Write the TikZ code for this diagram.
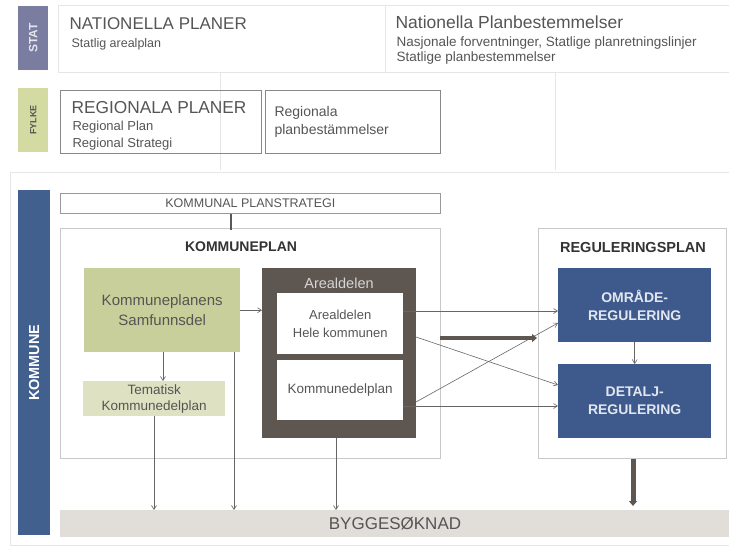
\documentclass[tikz,border=0pt]{standalone}
\usepackage{fontspec}
\setmainfont{Liberation Sans}
\usetikzlibrary{arrows.meta}
\definecolor{statc}{HTML}{7A7DA0}
\definecolor{fylkec}{HTML}{D3DAA2}
\definecolor{kommc}{HTML}{41608E}
\definecolor{samf}{HTML}{C8CF9A}
\definecolor{tema}{HTML}{DEE2C2}
\definecolor{areal}{HTML}{5E5651}
\definecolor{regc}{HTML}{3E5A8C}
\definecolor{bygg}{HTML}{E1DDD9}
\definecolor{txt}{HTML}{555555}
\definecolor{faint}{HTML}{E6E6E6}
\definecolor{lbox}{HTML}{C8C8C8}
\begin{document}
\begin{tikzpicture}[x=1pt,y=-1pt,
  every node/.style={text=txt,font=\fontsize{10}{12}\selectfont},
  sidebar/.style={anchor=north west,inner sep=0pt},
  framebox/.style={draw=txt!70,line width=0.7pt,anchor=north west,inner sep=0pt},
  lightbox/.style={draw=lbox,line width=0.6pt,anchor=north west,inner sep=0pt},
  fillbox/.style={anchor=north west,inner sep=0pt,align=center},
  thinarrow/.style={draw=txt!90,line width=0.6pt,-{Straight Barb[length=4pt,width=5pt]}},
  thickarrow/.style={draw=areal,line width=4pt,-{Triangle[length=5pt,width=8pt]}}
]
\useasboundingbox (0,0) rectangle (729,547);
% faint background grid
\draw[faint,line width=0.8pt] (58,5) rectangle (385,72);
\draw[faint,line width=0.8pt] (385,5) rectangle (729,72);
\draw[faint,line width=0.8pt] (220,72) -- (220,170);
\draw[faint,line width=0.8pt] (555,72) -- (555,170);
\draw[faint,line width=0.8pt] (10,172) -- (729,172);
\draw[faint,line width=0.8pt] (10,172) -- (10,545) -- (729,545);
% side bars
\node[sidebar,fill=statc,minimum width=30pt,minimum height=64pt] (stat) at (18,6) {};
\node[rotate=90,text=white!80!statc,font=\fontsize{12}{13}\selectfont\bfseries] at (stat.center) {STAT};
\node[sidebar,fill=fylkec,minimum width=30pt,minimum height=64pt] (fylke) at (18,88) {};
\node[rotate=90,text=txt,font=\fontsize{9}{10}\selectfont\bfseries] at (fylke.center) {FYLKE};
\node[sidebar,fill=kommc,minimum width=32pt,minimum height=345pt] (komm) at (18,190) {};
\node[rotate=90,text=white,font=\fontsize{14.5}{16}\selectfont\bfseries] at (komm.center) {KOMMUNE};
% national
\node[anchor=base west,font=\fontsize{17}{20}\selectfont] (natp) at (66,29) {NATIONELLA PLANER};
\node[anchor=base west,font=\fontsize{12.5}{14}\selectfont] (natsub) at (68,47) {Statlig arealplan};
\node[anchor=base west,font=\fontsize{17.5}{20}\selectfont] (natb) at (392,28) {Nationella Planbestemmelser};
\node[anchor=base west,font=\fontsize{13.5}{15}\selectfont] (natbsub) at (393,46) {Nasjonale forventninger, Statlige planretningslinjer};
\node[anchor=base west,font=\fontsize{13.5}{15}\selectfont] (natbsub2) at (393,61) {Statlige planbestemmelser};
% regional
\node[framebox,minimum width=201pt,minimum height=63pt] (regp) at (60,90) {};
\node[anchor=base west,font=\fontsize{17.3}{20}\selectfont] (regt) at (68,113) {REGIONALA PLANER};
\node[anchor=base west,font=\fontsize{13}{15}\selectfont] at (69,130) {Regional Plan};
\node[anchor=base west,font=\fontsize{13}{15}\selectfont] at (69,147) {Regional Strategi};
\node[framebox,minimum width=175pt,minimum height=63pt] (regb) at (265,90) {};
\node[anchor=west,align=left,font=\fontsize{14}{18}\selectfont] at (271,122) {Regionala\\planbestämmelser};
% kommunal planstrategi
\node[framebox,minimum width=380pt,minimum height=20pt,draw=txt!60] (kps) at (60,193) {};
\node[font=\fontsize{12.5}{14}\selectfont] at (kps.center) {KOMMUNAL PLANSTRATEGI};
% kommuneplan
\node[lightbox,minimum width=380pt,minimum height=230pt] (kp) at (60,228) {};
\node[font=\fontsize{14}{16}\selectfont\bfseries,text=black!80] at (241,247) {KOMMUNEPLAN};
\draw[areal,line width=2.5pt] (kps.south -| 231,0) -- (231,230);
\node[fillbox,fill=samf,minimum width=156pt,minimum height=84pt] (samf) at (84,268) {};
\node[align=center,font=\fontsize{15}{20}\selectfont] at (samf.center) {Kommuneplanens\\Samfunnsdel};
\node[fillbox,fill=tema,minimum width=142pt,minimum height=35pt] (tema) at (83,381) {};
\node[align=center,font=\fontsize{13.5}{16}\selectfont] at (tema.center) {Tematisk\\Kommunedelplan};
\node[fillbox,fill=areal,minimum width=154pt,minimum height=170pt] (areal) at (262,268) {};
\node[text=white!75!areal,font=\fontsize{14.5}{16}\selectfont] at (339,283) {Arealdelen};
\node[fillbox,fill=white,minimum width=126pt,minimum height=61pt] (hele) at (277,293) {};
\node[align=center,font=\fontsize{13}{18}\selectfont] at (hele.center) {Arealdelen\\Hele kommunen};
\node[fillbox,fill=white,minimum width=126pt,minimum height=60pt] (kdp) at (277,360) {};
\node[font=\fontsize{13.5}{15}\selectfont] at (kdp.center) {Kommunedelplan};
% reguleringsplan
\node[lightbox,minimum width=188pt,minimum height=230pt] (rp) at (538,228) {};
\node[font=\fontsize{14.5}{16}\selectfont\bfseries,text=black!80] at (633,248) {REGULERINGSPLAN};
\node[fillbox,fill=regc,minimum width=153pt,minimum height=74pt] (omr) at (558,268) {};
\node[align=center,text=white!85!regc,font=\fontsize{14}{18}\selectfont\bfseries] at (omr.center) {OMRÅDE-\\REGULERING};
\node[fillbox,fill=regc,minimum width=153pt,minimum height=74pt] (det) at (558,364) {};
\node[align=center,text=white!85!regc,font=\fontsize{14}{18}\selectfont\bfseries] at (det.center) {DETALJ-\\REGULERING};
% byggesøknad
\node[fillbox,fill=bygg,minimum width=669pt,minimum height=27pt] (byg) at (60,510) {};
\node[font=\fontsize{17}{19}\selectfont] at (395,524) {BYGGESØKNAD};
% connectors
\draw[thinarrow] (samf.east) -- (areal.west |- samf.east);
\draw[thinarrow] (samf.south -| 163,0) -- (tema.north -| 163,0);
\draw[thinarrow] (tema.south -| 154,0) -- (byg.north -| 154,0);
\draw[thinarrow] (samf.south -| 234,0) -- (byg.north -| 234,0);
\draw[thinarrow] (areal.south -| 336,0) -- (byg.north -| 336,0);
\draw[thinarrow] (hele.east |- 0,311) -- (omr.west |- 0,311);
\draw[thinarrow] (416,337) -- (det.west |- 0,385);
\draw[thinarrow] (416,402) -- (omr.west |- 0,323);
\draw[thinarrow] (kdp.east |- 0,406) -- (det.west |- 0,406);
\draw[thickarrow] (440,338) -- (537,338);
\draw[thinarrow] (omr.south) -- (det.north);
\draw[thickarrow,line width=5pt] (rp.south -| 633,0) -- (633,506);
\end{tikzpicture}
\end{document}
